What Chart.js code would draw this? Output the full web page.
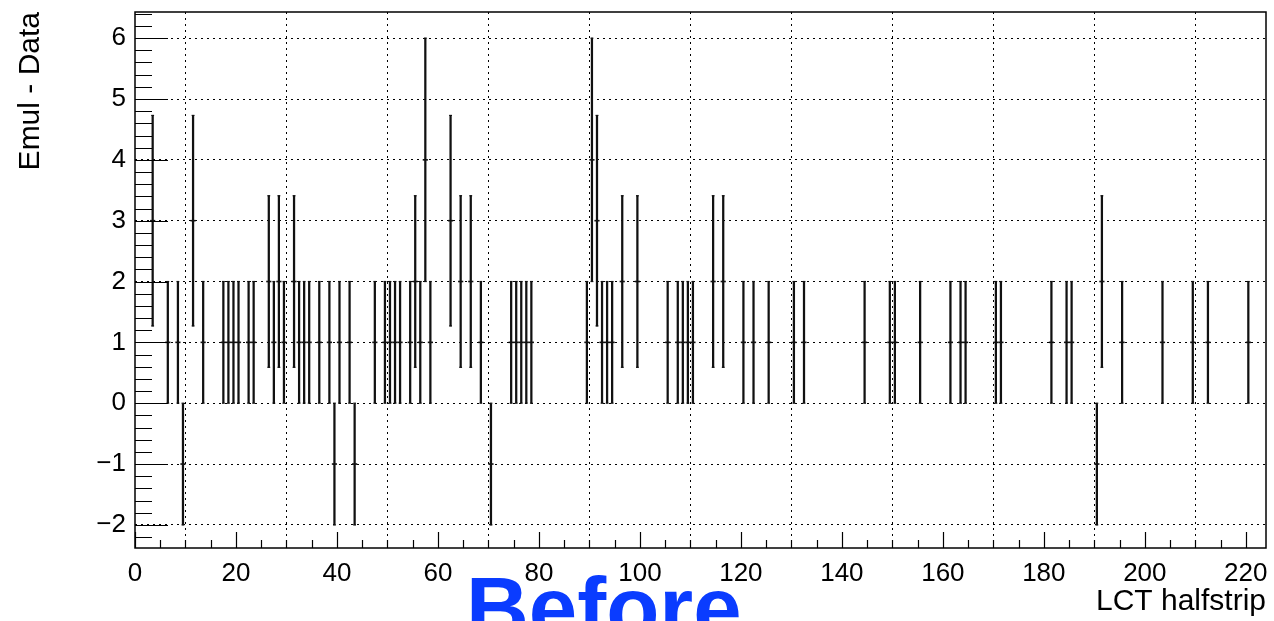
<!DOCTYPE html>
<html>
<head>
<meta charset="utf-8">
<script src="https://cdn.jsdelivr.net/npm/chart.js@4/dist/chart.umd.min.js"></script>
<style>
  html, body { margin: 0; padding: 0; background: #fff; }
  #wrap { position: relative; width: 1274px; height: 621px; overflow: hidden; }
  canvas { display: block; }
  #tag {
    position: absolute; left: 466px; top: 558px;
    font: bold 87px "Liberation Sans", Arial, sans-serif;
    color: #0a3cff; line-height: 100px; white-space: nowrap;
  }
</style>
</head>
<body>
<div id="wrap">
  <canvas id="chart" width="1274" height="621"></canvas>
  <div id="tag">Before</div>
</div>
<script>
// LCT halfstrip bins that are not empty (bin centres)
const bins = [
  3.5, 6.5, 8.5, 9.5, 11.5, 13.5, 17.5, 18.5, 19.5, 20.5,
  22.5, 23.5, 26.5, 27.5, 28.5, 29.5, 31.5, 32.5, 33.5, 34.5,
  36.5, 38.5, 39.5, 40.5, 42.5, 43.5, 47.5, 49.5, 50.5, 51.5,
  52.5, 54.5, 55.5, 56.5, 57.5, 58.5, 62.5, 64.5, 66.5, 68.5,
  70.5, 74.5, 75.5, 76.5, 77.5, 78.5, 89.5, 90.5, 91.5, 92.5,
  93.5, 94.5, 96.5, 99.5, 105.5, 107.5, 108.5, 109.5, 110.5, 114.5,
  116.5, 120.5, 122.5, 125.5, 130.5, 132.5, 144.5, 149.5, 150.5, 155.5,
  161.5, 163.5, 164.5, 170.5, 171.5, 181.5, 184.5, 185.5, 190.5, 191.5,
  195.5, 203.5, 209.5, 212.5, 220.5
];
// Emul - Data per bin
const values = [
  3, 1, 1, -1, 3, 1, 1, 1, 1, 1,
  1, 1, 2, 1, 2, 1, 2, 1, 1, 1,
  1, 1, -1, 1, 1, -1, 1, 1, 1, 1,
  1, 1, 2, 1, 4, 1, 3, 2, 2, 1,
  -1, 1, 1, 1, 1, 1, 1, 4, 3, 1,
  1, 1, 2, 2, 1, 1, 1, 1, 1, 2,
  2, 1, 1, 1, 1, 1, 1, 1, 1, 1,
  1, 1, 1, 1, 1, 1, 1, 1, -1, 2,
  1, 1, 1, 1, 1
];
// error bar half-lengths
const errors = [
  1.73, 1, 1, 1, 1.73, 1, 1, 1, 1, 1,
  1, 1, 1.41, 1, 1.41, 1, 1.41, 1, 1, 1,
  1, 1, 1, 1, 1, 1, 1, 1, 1, 1,
  1, 1, 1.41, 1, 2, 1, 1.73, 1.41, 1.41, 1,
  1, 1, 1, 1, 1, 1, 1, 2, 1.73, 1,
  1, 1, 1.41, 1.41, 1, 1, 1, 1, 1, 1.41,
  1.41, 1, 1, 1, 1, 1, 1, 1, 1, 1,
  1, 1, 1, 1, 1, 1, 1, 1, 1, 1.41,
  1, 1, 1, 1, 1
];
const xTicks = [0, 20, 40, 60, 80, 100, 120, 140, 160, 180, 200, 220];
const yTicks = [-2, -1, 0, 1, 2, 3, 4, 5, 6];
const xRange = [0, 224];
const yRange = [-2.38, 6.43];
const xMinor = 5, yMinor = 0.2;

const FONT = '"Liberation Sans", Arial, sans-serif';

const errBars = bins.map((b, i) => ({ x: b, y: [values[i] - errors[i], values[i] + errors[i]] }));
const markers = bins.map((b, i) => ({ x: b, y: values[i] }));
const caps = [];
bins.forEach((b, i) => {
  caps.push({ x: b, y: values[i] + errors[i] });
  caps.push({ x: b, y: values[i] - errors[i] });
});

function minus(v) {
  return v < 0 ? '\u2212' + Math.abs(v) : String(v);
}

// ROOT style frame with inward ticks
const rootFrame = {
  id: 'rootFrame',
  afterDatasetsDraw(chart) {
    const { ctx, chartArea: a, scales: { x, y } } = chart;
    ctx.save();
    ctx.strokeStyle = '#000';
    ctx.lineWidth = 1.5;
    ctx.strokeRect(a.left, a.top, a.right - a.left, a.bottom - a.top);
    ctx.lineWidth = 1.2;
    ctx.beginPath();
    for (let v = xRange[0]; v <= xRange[1] + 1e-6; v += xMinor) {
      const px = Math.round(x.getPixelForValue(v)) + 0.5;
      const len = xTicks.includes(v) ? 16 : 8;
      ctx.moveTo(px, a.bottom);
      ctx.lineTo(px, a.bottom - len);
    }
    const start = Math.ceil(yRange[0] / yMinor) * yMinor;
    for (let v = start; v <= yRange[1] + 1e-6; v += yMinor) {
      const r = Math.round(v * 10) / 10;
      const py = Math.round(y.getPixelForValue(r)) + 0.5;
      const len = yTicks.includes(r) ? 33 : 17;
      ctx.moveTo(a.left, py);
      ctx.lineTo(a.left + len, py);
    }
    ctx.stroke();
    ctx.restore();
  }
};

new Chart(document.getElementById('chart'), {
  type: 'bar',
  data: {
    datasets: [
      {
        type: 'bar',
        data: errBars,
        backgroundColor: '#111',
        barThickness: 1.6,
        order: 2
      },
      {
        type: 'line',
        data: markers,
        showLine: false,
        pointStyle: 'line',
        pointRadius: 2.6,
        pointBorderWidth: 1.6,
        pointBorderColor: '#111',
        order: 1
      },
      {
        type: 'line',
        data: caps,
        showLine: false,
        pointStyle: 'line',
        pointRadius: 1.4,
        pointBorderWidth: 1.2,
        pointBorderColor: '#111',
        order: 1
      }
    ]
  },
  options: {
    responsive: false,
    devicePixelRatio: 1,
    animation: false,
    layout: { autoPadding: false, padding: { top: 12, right: 8, left: 0, bottom: 0 } },
    plugins: { legend: { display: false }, tooltip: { enabled: false } },
    scales: {
      x: {
        type: 'linear',
        min: xRange[0],
        max: xRange[1],
        offset: false,
        afterBuildTicks: s => { s.ticks = xTicks.map(v => ({ value: v })); },
        afterFit: s => { s.height = 73; s.paddingLeft = 0; s.paddingRight = 0; },
        ticks: { color: '#000', padding: 10, font: { family: FONT, size: 26 }, maxRotation: 0, autoSkip: false },
        grid: { color: '#000', lineWidth: 1, drawTicks: false },
        border: { display: false, dash: [2, 4] },
        title: { display: true, text: 'LCT halfstrip', align: 'end', color: '#000', font: { family: FONT, size: 30 }, padding: { top: 0, bottom: 1 } }
      },
      y: {
        min: yRange[0],
        max: yRange[1],
        afterBuildTicks: s => { s.ticks = yTicks.map(v => ({ value: v })); },
        afterFit: s => { s.width = 135; s.paddingTop = 0; s.paddingBottom = 0; },
        ticks: { color: '#000', padding: 9, font: { family: FONT, size: 26 }, callback: v => minus(v) },
        grid: { color: '#000', lineWidth: 1, drawTicks: false },
        border: { display: false, dash: [2, 4] },
        title: { display: true, text: 'Emul - Data', align: 'end', color: '#000', font: { family: FONT, size: 30 }, padding: { top: 13, bottom: 0 } }
      }
    }
  },
  plugins: [rootFrame]
});
</script>
</body>
</html>
